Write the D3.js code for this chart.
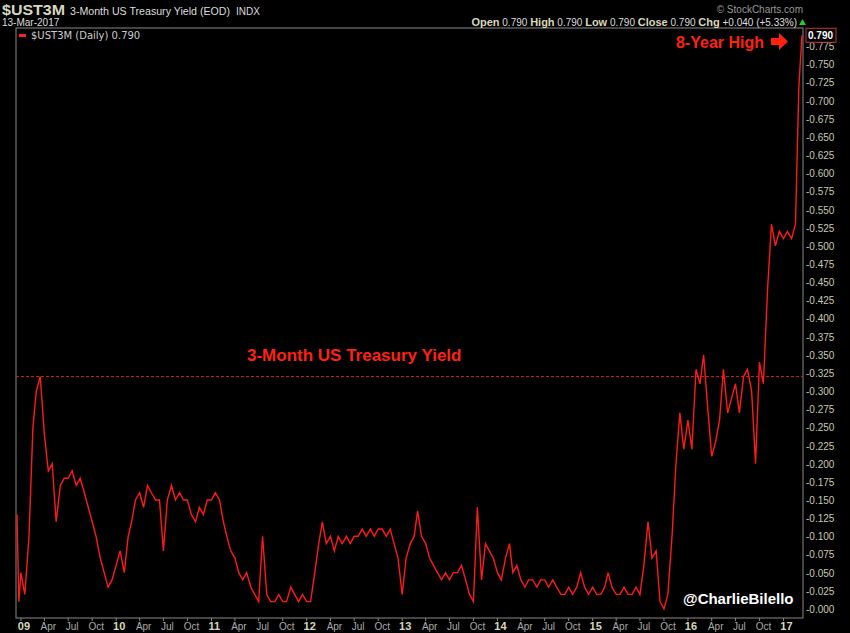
<!DOCTYPE html>
<html><head><meta charset="utf-8">
<script src="https://cdn.jsdelivr.net/npm/d3@7"></script>
<style>body{margin:0;background:#000}svg{display:block}</style>
</head><body><svg id="c" width="850" height="633"></svg>
<script>
// semi-monthly readings (1st and 16th of each month)
const y2008 = [0.13, 0.01];
const y2009 = [0.05,0.02,0.10,0.25,0.30,0.32,0.24,0.19,0.20,0.12,0.17,0.18,0.18,0.19,0.17,0.18,0.16,0.14,0.12,0.10,0.07,0.05,0.03,0.04];
const y2010 = [0.06,0.08,0.05,0.10,0.12,0.15,0.16,0.14,0.17,0.16,0.15,0.15,0.08,0.15,0.17,0.15,0.16,0.15,0.15,0.13,0.12,0.14,0.13,0.15];
const y2011 = [0.15,0.16,0.15,0.12,0.10,0.08,0.07,0.05,0.04,0.05,0.03,0.02,0.01,0.10,0.02,0.01,0.01,0.02,0.01,0.01,0.03,0.02,0.01,0.02];
const y2012 = [0.01,0.01,0.05,0.09,0.12,0.09,0.10,0.08,0.10,0.09,0.10,0.09,0.10,0.10,0.11,0.10,0.11,0.10,0.11,0.11,0.10,0.11,0.09,0.07];
const y2013 = [0.02,0.07,0.09,0.10,0.135,0.10,0.09,0.07,0.06,0.05,0.04,0.05,0.04,0.05,0.05,0.06,0.04,0.02,0.01,0.14,0.04,0.09,0.08,0.07];
const y2014 = [0.05,0.04,0.07,0.09,0.05,0.06,0.04,0.03,0.04,0.04,0.03,0.04,0.04,0.03,0.04,0.03,0.02,0.02,0.03,0.02,0.03,0.05,0.03,0.02];
const y2015 = [0.03,0.02,0.02,0.03,0.05,0.03,0.02,0.02,0.03,0.02,0.02,0.03,0.02,0.06,0.12,0.07,0.08,0.01,0.00,0.02,0.10,0.20,0.27,0.22];
const y2016 = [0.26,0.22,0.33,0.31,0.35,0.28,0.21,0.23,0.26,0.33,0.27,0.29,0.31,0.27,0.32,0.33,0.30,0.20,0.34,0.31,0.44,0.53,0.50,0.52];
const y2017 = [0.51,0.52,0.51,0.53,0.72];
const lastDate = "2017-03-13", lastValue = 0.79;
const yTicks = d3.range(0, 0.7751, 0.025);
const refLevel = 0.32;

const data = [];
data.push({d:new Date(2008,11,17), v:y2008[0]});
data.push({d:new Date(2008,11,24), v:y2008[1]});
[[2009,y2009],[2010,y2010],[2011,y2011],[2012,y2012],[2013,y2013],[2014,y2014],[2015,y2015],[2016,y2016],[2017,y2017]]
 .forEach(([yr,arr])=>arr.forEach((v,i)=>data.push({d:new Date(yr,Math.floor(i/2),i%2?16:1),v})));
data.push({d:new Date(lastDate+"T00:00"), v:lastValue});

const svg = d3.select("#c");
const L=16,R=803,T=28,B=618;
const x = d3.scaleTime().domain([new Date(2008,11,17), new Date(2017,2,13)]).range([L+1,R-1]);
const y = d3.scaleLinear().domain([-0.0125,0.8]).range([B,T]);
const F = "Liberation Sans, Arial";

svg.append("rect").attr("x",L).attr("y",T).attr("width",R-L).attr("height",B-T).attr("fill","#000").attr("stroke","#888").attr("stroke-width",1);

// header
const hdr = svg.append("g").attr("font-family",F);
hdr.append("text").attr("x",2).attr("y",15).attr("fill","#d8d8c0").attr("font-weight","bold").attr("font-size",14).attr("textLength",63).attr("lengthAdjust","spacingAndGlyphs").text("$UST3M");
hdr.append("text").attr("x",70).attr("y",15).attr("fill","#ddd").attr("font-size",11).attr("textLength",160).attr("lengthAdjust","spacingAndGlyphs").text("3-Month US Treasury Yield (EOD)");
hdr.append("text").attr("x",236).attr("y",15).attr("fill","#ddd").attr("font-size",10).text("INDX");
hdr.append("text").attr("x",2).attr("y",26).attr("fill","#ddd").attr("font-size",10).text("13-Mar-2017");
hdr.append("text").attr("x",803).attr("y",13).attr("text-anchor","end").attr("fill","#999").attr("font-size",10).text("© StockCharts.com");
const ohlc = hdr.append("text").attr("x",797).attr("y",26).attr("text-anchor","end").attr("font-size",10).attr("fill","#ddd");
[["Open"," 0.790  "],["High"," 0.790  "],["Low"," 0.790  "],["Close"," 0.790  "],["Chg"," +0.040 (+5.33%)"]].forEach(([a,b])=>{
  ohlc.append("tspan").attr("font-weight","bold").attr("fill","#d8d8b8").attr("font-size",11).text(a);
  ohlc.append("tspan").text(b);
});
svg.append("path").attr("d","M799,25 L806,25 L802.5,19 Z").attr("fill","#2c2");

// legend
svg.append("rect").attr("x",19).attr("y",34).attr("width",7).attr("height",3).attr("fill","#f22");
svg.append("text").attr("x",31).attr("y",39).attr("fill","#ccc").attr("font-family","DejaVu Sans").attr("font-size",10).text("$UST3M (Daily) 0.790");

// y axis
const ya = svg.append("g").attr("font-family",F).attr("font-size",10);
yTicks.forEach(t=>{
  ya.append("text").attr("x",806).attr("y",y(t)+4).attr("fill","#c8c8b4").text("-"+t.toFixed(3));
});
svg.append("rect").attr("x",806).attr("y",y(0.79)-7).attr("width",30).attr("height",14).attr("fill","#000").attr("stroke","#c33");
svg.append("text").attr("x",808).attr("y",y(0.79)+4).attr("fill","#fff").attr("font-weight","bold").attr("font-family",F).attr("font-size",10).text("0.790");

// x axis
const xa = svg.append("g").attr("font-family",F).attr("font-size",10);
const months = d3.timeMonth.every(3).range(new Date(2009,0,1), new Date(2017,2,1));
months.forEach(m=>{
  const px = x(m);
  xa.append("line").attr("x1",px).attr("x2",px).attr("y1",B).attr("y2",B+3).attr("stroke","#888");
  const yr = m.getMonth()===0;
  xa.append("text").attr("x",px+ (yr?3:4)).attr("y",B+12).attr("text-anchor","middle")
    .attr("fill",yr?"#d8d8b8":"#aaa").attr("font-weight",yr?"bold":"normal").attr("font-size",yr?11:10)
    .text(yr?d3.timeFormat("%y")(m):d3.timeFormat("%b")(m));
});

// reference line
svg.append("line").attr("x1",L).attr("x2",R).attr("y1",y(refLevel)).attr("y2",y(refLevel)).attr("stroke","#c22").attr("stroke-dasharray","3,2");

// series
const line = d3.line().x(d=>x(d.d)).y(d=>y(d.v));
svg.append("path").datum(data).attr("d",line).attr("fill","none").attr("stroke","#ff1a1a").attr("stroke-width",1.4);

// annotations
svg.append("text").attr("x",247).attr("y",361).attr("fill","#f21").attr("font-weight","bold").attr("font-family",F).attr("font-size",17).text("3-Month US Treasury Yield");
svg.append("text").attr("x",764).attr("y",48).attr("text-anchor","end").attr("fill","#f21").attr("font-weight","bold").attr("font-family",F).attr("font-size",16).text("8-Year High");
svg.append("path").attr("d","M771,38 L779,38 L779,33 L788,41.5 L779,50 L779,45 L771,45 Z").attr("fill","#f21");
svg.append("text").attr("x",683).attr("y",604).attr("fill","#fff").attr("font-weight","bold").attr("font-family",F).attr("font-size",15).text("@CharlieBilello");
</script></body></html>
